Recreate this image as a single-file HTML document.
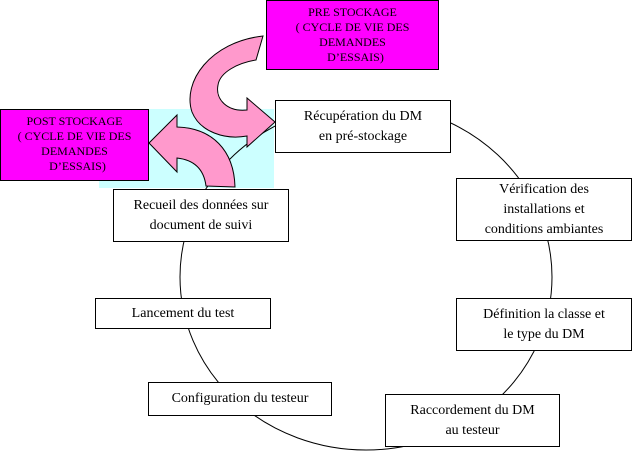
<!DOCTYPE html>
<html><head><meta charset="utf-8"><style>
body{margin:0;width:633px;height:451px;background:#fff;position:relative;overflow:hidden;font-family:"Liberation Serif","DejaVu Serif",serif}
.b{position:absolute;box-sizing:border-box;border:1px solid #000;background:#fff;display:flex;align-items:center;justify-content:center;text-align:center;font-size:14px;line-height:20px;font-family:"Liberation Serif","DejaVu Serif",serif}
.m{background:#f0f;font-size:12px;line-height:15px;align-items:flex-start;padding-top:4px}
</style></head><body>
<svg width="633" height="451" style="position:absolute;left:0;top:0">
<rect x="99" y="109" width="175" height="79" fill="#ccffff"/>
<ellipse cx="366" cy="277" rx="186" ry="173" fill="none" stroke="#000" stroke-width="1"/>
<path d="M263,36 C210,42 182,82 192,112 C200,132 225,140 247,136 L247,147 L275,122 L247,98 L247,110 C228,112 215,100 218,85 C220,72 238,63 256,60 Z" fill="#ff99cc" stroke="#000" stroke-width="1"/>
<path d="M149,143 L177,115 L177,127 C212,128 234,150 235,187 L206,186 C204,170 195,160 177,158 L177,172 Z" fill="#ff99cc" stroke="#000" stroke-width="1"/>
</svg>
<div class="b m" style="left:266px;top:0;width:173px;height:70px">PRE STOCKAGE<br>( CYCLE DE VIE DES<br>DEMANDES<br>&nbsp;&nbsp;D’ESSAIS)</div>
<div class="b m" style="left:0;top:109px;width:149px;height:72px">POST STOCKAGE<br>( CYCLE DE VIE DES<br>DEMANDES<br>&nbsp;&nbsp;D’ESSAIS)</div>
<div class="b" style="left:275px;top:100px;width:176px;height:53px">Récupération du DM<br>en pré-stockage</div>
<div class="b" style="left:113px;top:189px;width:176px;height:53px">Recueil des données sur<br>document de suivi</div>
<div class="b" style="left:456px;top:178px;width:176px;height:63px">Vérification des<br>installations et<br>conditions ambiantes</div>
<div class="b" style="left:95px;top:298px;width:176px;height:31px">Lancement du test</div>
<div class="b" style="left:456px;top:298px;width:176px;height:53px">Définition la classe et<br>le type du DM</div>
<div class="b" style="left:148px;top:382px;width:184px;height:34px">Configuration du testeur</div>
<div class="b" style="left:385px;top:394px;width:175px;height:53px">Raccordement du DM<br>au testeur</div>
</body></html>
